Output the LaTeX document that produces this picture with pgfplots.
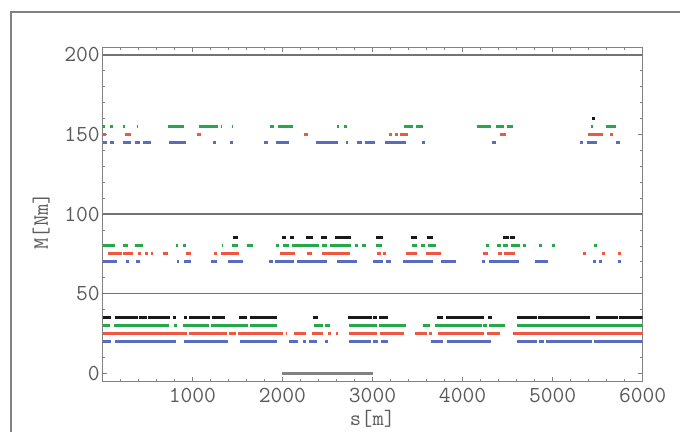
\documentclass[border=0pt]{standalone}
\usepackage{fontspec}
\usepackage{pgfplots}
\pgfplotsset{compat=1.18}
\definecolor{cblue}{RGB}{88,108,196}
\definecolor{cred}{RGB}{238,88,66}
\definecolor{cgreen}{RGB}{38,168,74}
\definecolor{cblack}{RGB}{25,25,25}
\definecolor{txtgray}{RGB}{90,90,90}
\definecolor{axgray}{RGB}{130,130,130}
\pgfplotsset{seg/.style={line width=3bp, line cap=butt, unbounded coords=jump, forget plot}}

\begin{document}
\begin{tikzpicture}
\path[use as bounding box] (0,0) rectangle (680bp,432bp);
\draw[axgray, line width=1.2bp] (11bp,0) -- (11bp,420bp) -- (680bp,420bp);
\begin{axis}[
    at={(102.3bp,50.3bp)}, anchor=south west,
    scale only axis, width=540.4bp, height=334.2bp,
    xmin=0, xmax=6000, ymin=-5.3, ymax=204.7,
    xtick={0,1000,...,6000}, xticklabels={{},1000,2000,3000,4000,5000,6000},
    ytick={0,50,...,200},
    minor x tick num=4, minor y tick num=4,
    tick align=inside, tick pos=both,
    major tick length=5bp, minor tick length=3bp,
    axis line style={axgray, line width=1bp},
    every tick/.style={axgray, line width=0.8bp},
    /pgf/number format/assume math mode=true,
    /pgf/number format/1000 sep={},
    tick label style={font=\ttfamily\fontsize{23}{26}\selectfont, text=txtgray},
    xticklabel style={yshift=-3bp},
    yticklabel style={xshift=1bp},
    label style={font=\ttfamily\fontsize{22}{26}\selectfont, text=txtgray},
    xlabel={s[m]}, ylabel={M[Nm]},
    xlabel style={yshift=-1bp},
    ylabel style={at={(axis description cs:-0.113,0.48)}, anchor=center},
]
% separating lines
\addplot[black!55, line width=1.6bp, forget plot] coordinates {(0,50)(6000,50)};
\addplot[black!55, line width=1.6bp, forget plot] coordinates {(0,100)(6000,100)};
\addplot[black!55, line width=1.6bp, forget plot] coordinates {(0,200)(6000,200)};
\addplot[axgray, line width=2.5bp, forget plot] coordinates {(2000,0)(3000,0)};

% ---- top group
\addplot[cblue, seg] coordinates {
(10,145)(52,145)(52,nan) (85,145)(130,145)(130,nan) (233,145)(315,145)(315,nan)
(363,145)(419,145)(419,nan) (456,145)(541,145)(541,nan) (741,145)(926,145)(926,nan)
(1233,145)(1259,145)(1259,nan) (1418,145)(1454,145)(1454,nan) (1799,145)(1843,145)(1843,nan)
(1925,145)(2073,145)(2073,nan) (2373,145)(2620,145)(2620,nan) (2706,145)(2731,145)(2731,nan)
(2824,145)(2880,145)(2880,nan) (2917,145)(3028,145)(3028,nan) (3139,145)(3372,145)(3372,nan)
(3546,145)(3583,145)(3583,nan) (4323,145)(4371,145)(4371,nan) (5303,145)(5333,145)(5333,nan)
(5377,145)(5488,145)(5488,nan) (5703,145)(5748,145)};
\addplot[cred, seg] coordinates {
(11,150)(37,150)(37,nan) (252,150)(315,150)(315,nan) (1055,150)(1096,150)(1096,nan)
(2243,150)(2287,150)(2287,nan) (3186,150)(3213,150)(3213,nan) (3250,150)(3287,150)(3287,nan)
(3305,150)(3398,150)(3398,nan) (4415,150)(4479,150)(4479,nan) (5396,150)(5563,150)(5563,nan)
(5637,150)(5667,150)};
\addplot[cgreen, seg] coordinates {
(2,155)(25,155)(25,nan) (85,155)(122,155)(122,nan) (233,155)(252,155)(252,nan)
(382,155)(400,155)(400,nan) (733,155)(907,155)(907,nan) (1077,155)(1281,155)(1281,nan)
(1314,155)(1332,155)(1332,nan) (1436,155)(1454,155)(1454,nan) (1862,155)(1910,155)(1910,nan)
(1947,155)(2114,155)(2114,nan) (2602,155)(2628,155)(2628,nan) (2687,155)(2713,155)(2713,nan)
(3353,155)(3453,155)(3453,nan) (3483,155)(3564,155)(3564,nan) (4157,155)(4312,155)(4312,nan)
(4371,155)(4460,155)(4460,nan) (4490,155)(4556,155)(4556,nan) (5426,155)(5452,155)(5452,nan)
(5592,155)(5703,155)};
\addplot[cblack, seg] coordinates {(5440,160)(5470,160)};

% ---- middle group
\addplot[cblue, seg] coordinates {
(11,70)(159,70)(159,nan) (263,70)(296,70)(296,nan) (374,70)(419,70)(419,nan)
(833,70)(855,70)(855,nan) (907,70)(982,70)(982,nan) (1207,70)(1270,70)(1270,nan)
(1392,70)(1566,70)(1566,nan) (1854,70)(1892,70)(1892,nan) (1917,70)(2128,70)(2128,nan)
(2165,70)(2498,70)(2498,nan) (2602,70)(2824,70)(2824,nan) (3009,70)(3120,70)(3120,nan)
(3150,70)(3205,70)(3205,nan) (3342,70)(3668,70)(3668,nan) (3761,70)(3924,70)(3924,nan)
(4219,70)(4249,70)(4249,nan) (4293,70)(4630,70)(4630,nan) (4804,70)(4945,70)(4945,nan)
(5445,70)(5478,70)(5478,nan) (5518,70)(5544,70)(5544,nan) (5722,70)(5759,70)};
\addplot[cred, seg] coordinates {
(67,75)(215,75)(215,nan) (233,75)(337,75)(337,nan) (400,75)(426,75)(426,nan)
(474,75)(511,75)(511,nan) (541,75)(567,75)(567,nan) (670,75)(726,75)(726,nan)
(926,75)(982,75)(982,nan) (1244,75)(1277,75)(1277,nan) (1318,75)(1518,75)(1518,nan)
(1973,75)(2140,75)(2140,nan) (2269,75)(2332,75)(2332,nan) (2443,75)(2750,75)(2750,nan)
(3047,75)(3091,75)(3091,nan) (3120,75)(3146,75)(3146,nan) (3372,75)(3497,75)(3497,nan)
(3594,75)(3757,75)(3757,nan) (4223,75)(4286,75)(4286,nan) (4397,75)(4434,75)(4434,nan)
(4460,75)(4582,75)(4582,nan) (5333,75)(5366,75)(5366,nan) (5544,75)(5581,75)(5581,nan)
(5722,75)(5755,75)};
\addplot[cgreen, seg] coordinates {
(11,80)(141,80)(141,nan) (233,80)(282,80)(282,nan) (363,80)(448,80)(448,nan)
(815,80)(844,80)(844,nan) (899,80)(929,80)(929,nan) (1325,80)(1343,80)(1343,nan)
(1436,80)(1510,80)(1510,nan) (1603,80)(1677,80)(1677,nan) (1925,80)(1962,80)(1962,nan)
(2010,80)(2076,80)(2076,nan) (2103,80)(2406,80)(2406,nan) (2443,80)(2498,80)(2498,nan)
(2528,80)(2757,80)(2757,nan) (2806,80)(2835,80)(2835,nan) (2885,80)(2925,80)(2925,nan)
(3039,80)(3102,80)(3102,nan) (3435,80)(3497,80)(3497,nan) (3538,80)(3583,80)(3583,nan)
(3619,80)(3705,80)(3705,nan) (4260,80)(4293,80)(4293,nan) (4378,80)(4423,80)(4423,nan)
(4452,80)(4501,80)(4501,nan) (4538,80)(4638,80)(4638,nan) (4674,80)(4703,80)(4703,nan)
(4852,80)(4885,80)(4885,nan) (4997,80)(5026,80)(5026,nan) (5462,80)(5496,80)};
\addplot[cblack, seg] coordinates {
(1447,85)(1510,85)(1510,nan) (1991,85)(2039,85)(2039,nan) (2084,85)(2128,85)(2128,nan)
(2261,85)(2343,85)(2343,nan) (2428,85)(2498,85)(2498,nan) (2583,85)(2757,85)(2757,nan)
(3039,85)(3113,85)(3113,nan) (3427,85)(3497,85)(3497,nan) (3601,85)(3668,85)(3668,nan)
(4452,85)(4510,85)(4510,nan) (4525,85)(4582,85)};

% ---- bottom group
\addplot[cblue, seg] coordinates {
(4,20)(93,20)(93,nan) (141,20)(818,20)(818,nan) (907,20)(1399,20)(1399,nan)
(1529,20)(1936,20)(1936,nan) (2073,20)(2176,20)(2176,nan) (2232,20)(2262,20)(2262,nan)
(2298,20)(2380,20)(2380,nan) (2473,20)(2509,20)(2509,nan) (2743,20)(2980,20)(2980,nan)
(3009,20)(3065,20)(3065,nan) (3091,20)(3176,20)(3176,nan) (3646,20)(3779,20)(3779,nan)
(3831,20)(4312,20)(4312,nan) (4608,20)(4823,20)(4823,nan) (4852,20)(4904,20)(4904,nan)
(4926,20)(5433,20)(5433,nan) (5462,20)(6000,20)};
\addplot[cred, seg] coordinates {
(4,25)(937,25)(937,nan) (966,25)(1381,25)(1381,nan) (1410,25)(1484,25)(1484,nan)
(1503,25)(2003,25)(2003,nan) (2036,25)(2054,25)(2054,nan) (2128,25)(2262,25)(2262,nan)
(2325,25)(2454,25)(2454,nan) (2509,25)(2536,25)(2536,nan) (2591,25)(2620,25)(2620,nan)
(2743,25)(3046,25)(3046,nan) (3083,25)(3353,25)(3353,nan) (3472,25)(3601,25)(3601,nan)
(3631,25)(3657,25)(3657,nan) (3731,25)(4238,25)(4238,nan) (4268,25)(4415,25)(4415,nan)
(4556,25)(6000,25)};
\addplot[cgreen, seg] coordinates {
(4,30)(85,30)(85,nan) (130,30)(741,30)(741,nan) (799,30)(833,30)(833,nan)
(899,30)(1188,30)(1188,nan) (1207,30)(1621,30)(1621,nan) (1640,30)(1936,30)(1936,nan)
(2350,30)(2454,30)(2454,nan) (2473,30)(2528,30)(2528,nan) (2743,30)(3054,30)(3054,nan)
(3076,30)(3372,30)(3372,nan) (3564,30)(3638,30)(3638,nan) (3694,30)(4212,30)(4212,nan)
(4230,30)(4268,30)(4268,nan) (4297,30)(4471,30)(4471,nan) (4608,30)(6000,30)};
\addplot[cblack, seg] coordinates {
(4,35)(93,35)(93,nan) (141,35)(399,35)(399,nan) (411,35)(500,35)(500,nan)
(511,35)(752,35)(752,nan) (782,35)(818,35)(818,nan) (907,35)(944,35)(944,nan)
(966,35)(1196,35)(1196,nan) (1215,35)(1362,35)(1362,nan) (1521,35)(1603,35)(1603,nan)
(1640,35)(1943,35)(1943,nan) (2336,35)(2391,35)(2391,nan) (2731,35)(2991,35)(2991,nan)
(3009,35)(3046,35)(3046,nan) (3076,35)(3176,35)(3176,nan) (3713,35)(3779,35)(3779,nan)
(3816,35)(4238,35)(4238,nan) (4286,35)(4323,35)(4323,nan) (4608,35)(4830,35)(4830,nan)
(4841,35)(5415,35)(5415,nan) (5481,35)(5729,35)(5729,nan) (5740,35)(6000,35)};
\end{axis}
\end{tikzpicture}
\end{document}
